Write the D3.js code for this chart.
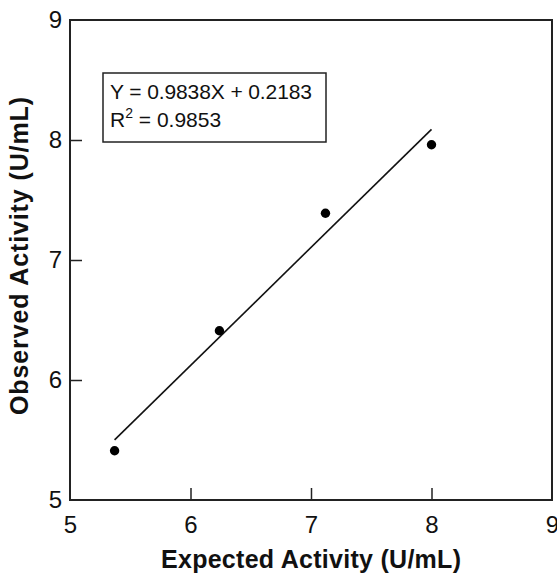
<!DOCTYPE html>
<html><head><meta charset="utf-8">
<script src="https://cdn.jsdelivr.net/npm/d3@7"></script>
<style>body{margin:0;background:#fff}svg{display:block;font-family:"Liberation Sans",Arial,sans-serif}</style>
</head><body>
<svg id="c" width="557" height="575"></svg>
<script>
const expected = [5.37, 6.24, 7.12, 8.0];
const observed = [5.41, 6.41, 7.39, 7.96];
const slope = 0.9838, intercept = 0.2183;
const fitRange = [5.37, 8.0];
const xTicks = [5, 6, 7, 8, 9];
const yTicks = [5, 6, 7, 8, 9];
const eqLines = ["Y = 0.9838X + 0.2183", "R", "2", " = 0.9853"];

const svg = d3.select("#c");
const L = 70, R = 552, T = 20, B = 500;
const x = d3.scaleLinear().domain([5, 9]).range([L, R]);
const y = d3.scaleLinear().domain([5, 9]).range([B, T]);
const FF = "Liberation Sans, Arial, sans-serif";

// x axis
const xa = svg.append("g").attr("transform", `translate(0,${B})`)
  .call(d3.axisBottom(x).tickValues(xTicks).tickFormat(d3.format("d")).tickSizeInner(-12).tickSizeOuter(0).tickPadding(16));
xa.attr("font-size", null).attr("font-family", null);
xa.select(".domain").remove();
xa.selectAll("line").attr("stroke", "#222").attr("stroke-width", 1.5);
xa.selectAll(".tick").filter(d => d === 5 || d === 9).select("line").remove();
xa.selectAll("text").style("font-size", "24px").style("font-family", FF).attr("fill", "#111");

// y axis
const ya = svg.append("g").attr("transform", `translate(${L},0)`)
  .call(d3.axisLeft(y).tickValues(yTicks).tickFormat(d3.format("d")).tickSizeInner(-12).tickSizeOuter(0).tickPadding(8));
ya.attr("font-size", null).attr("font-family", null);
ya.select(".domain").remove();
ya.selectAll("line").attr("stroke", "#222").attr("stroke-width", 1.5);
ya.selectAll(".tick").filter(d => d === 5 || d === 9).select("line").remove();
ya.selectAll("text").style("font-size", "24px").style("font-family", FF).attr("fill", "#111");

// frame
svg.append("rect").attr("x", L).attr("y", T).attr("width", R - L).attr("height", B - T)
  .attr("fill", "none").attr("stroke", "#222").attr("stroke-width", 2);

// fit line
svg.append("line")
  .attr("x1", x(fitRange[0])).attr("y1", y(slope * fitRange[0] + intercept))
  .attr("x2", x(fitRange[1])).attr("y2", y(slope * fitRange[1] + intercept))
  .attr("stroke", "#111").attr("stroke-width", 1.6);

// points
svg.selectAll("circle.pt").data(expected.map((e, i) => [e, observed[i]])).join("circle")
  .attr("class", "pt").attr("cx", d => x(d[0])).attr("cy", d => y(d[1])).attr("r", 4.7).attr("fill", "#000");

// equation box
svg.append("rect").attr("x", 103).attr("y", 73).attr("width", 223).attr("height", 69)
  .attr("fill", "#fff").attr("stroke", "#222").attr("stroke-width", 1.5);
svg.append("text").attr("x", 110).attr("y", 99).style("font-size", "21px").attr("fill", "#111")
  .attr("textLength", 202).attr("lengthAdjust", "spacing").text(eqLines[0]);
const t2 = svg.append("text").attr("x", 110).attr("y", 127).style("font-size", "21px").attr("fill", "#111");
t2.append("tspan").text(eqLines[1]);
t2.append("tspan").attr("dy", -9).style("font-size", "14px").text(eqLines[2]);
t2.append("tspan").attr("dy", 9).text(eqLines[3]);

// axis titles
svg.append("text").attr("x", (L + R) / 2).attr("y", 568).attr("text-anchor", "middle")
  .style("font-size", "25px").attr("font-weight", "bold").attr("fill", "#111")
  .attr("textLength", 300).attr("lengthAdjust", "spacing").text("Expected Activity (U/mL)");
svg.append("text").attr("transform", `translate(28,256) rotate(-90)`).attr("text-anchor", "middle")
  .style("font-size", "25px").attr("font-weight", "bold").attr("fill", "#111")
  .attr("textLength", 318).attr("lengthAdjust", "spacing").text("Observed Activity (U/mL)");
</script>
</body></html>
